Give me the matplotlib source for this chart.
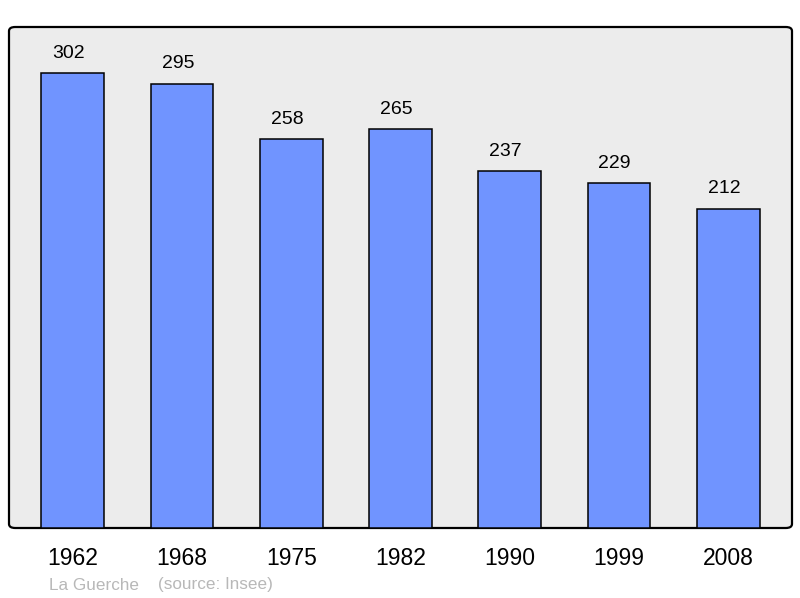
import matplotlib
matplotlib.use("Agg")
import matplotlib.pyplot as plt
from matplotlib.patches import FancyBboxPatch

years = ["1962", "1968", "1975", "1982", "1990", "1999", "2008"]
population = [302, 295, 258, 265, 237, 229, 212]

plt.rcParams['font.family'] = ['Liberation Sans', 'DejaVu Sans']

W, H = 800, 598
fig = plt.figure(figsize=(8, 5.98), dpi=100)
ax = fig.add_axes([9 / W, (H - 528) / H, 783 / W, 501 / H])
ax.set_facecolor('none')

# rounded background frame
frame = FancyBboxPatch((0, 0), 1, 1,
                       boxstyle="round,pad=0,rounding_size=0.008",
                       transform=ax.transAxes, facecolor='#ececec',
                       edgecolor='black', linewidth=1.6, zorder=0, clip_on=False)
ax.add_patch(frame)

x = list(range(len(years)))
bars = ax.bar(x, population, width=0.575, color='#7094ff', edgecolor='black',
              linewidth=1.1, zorder=2)
for xi, v in zip(x, population):
    ax.annotate(str(v), (xi, v), xytext=(-3, 8), textcoords='offset points',
                ha='center', va='bottom', fontsize=14)

ax.set_xlim(-0.585, 6.585)
ax.set_ylim(0, 332.5)
ax.set_xticks(x)
ax.set_xticklabels(years, fontsize=16.5)
ax.tick_params(axis='x', length=0, pad=14)
ax.set_yticks([])
for s in ax.spines.values():
    s.set_visible(False)

fig.text(49 / W, 1 - 585 / H, "La Guerche", color='#b8b8b8', fontsize=12.3,
         va='center', ha='left')
fig.text(158 / W, 1 - 585 / H, "(source: Insee)", color='#b8b8b8', fontsize=12.3,
         va='center', ha='left')

fig.savefig("out.png", dpi=100)
